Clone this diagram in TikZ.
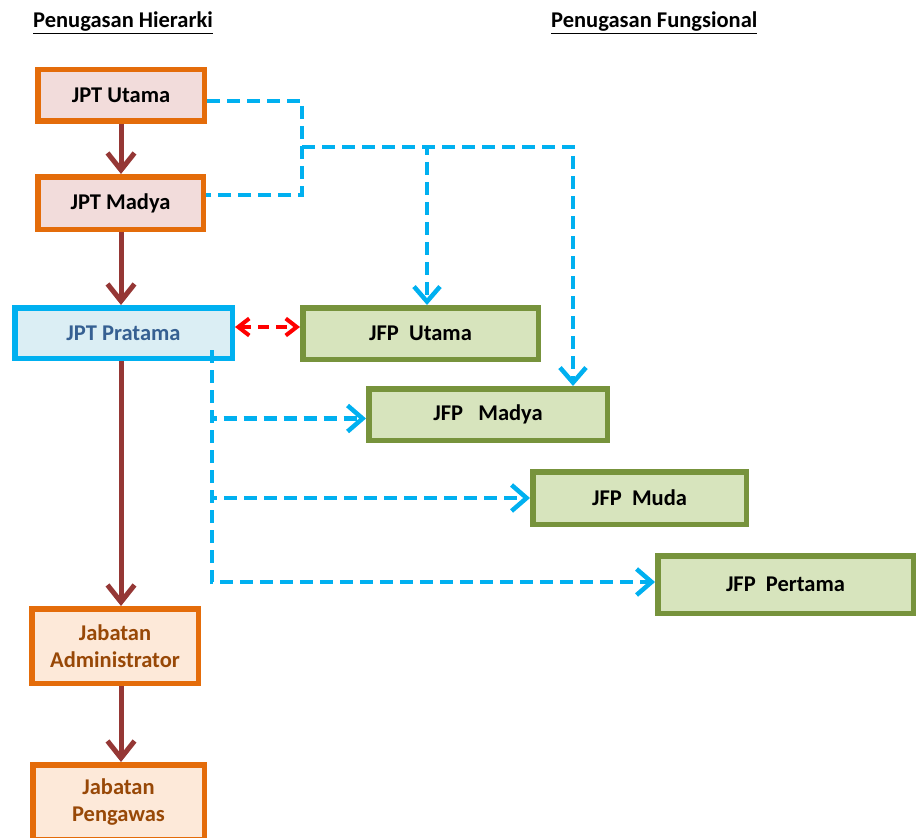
\documentclass[tikz,border=0pt]{standalone}
\usepackage{fontspec}
\setmainfont{Carlito}
\usetikzlibrary{arrows.meta}
\definecolor{orgB}{HTML}{E46C0A}
\definecolor{pinkF}{HTML}{F2DCDB}
\definecolor{peachF}{HTML}{FDE9D9}
\definecolor{brownT}{HTML}{984807}
\definecolor{brownA}{HTML}{953735}
\definecolor{blueB}{HTML}{00B0F0}
\definecolor{blueF}{HTML}{DBEEF4}
\definecolor{blueT}{HTML}{366092}
\definecolor{greenB}{HTML}{77933C}
\definecolor{greenF}{HTML}{D7E4BD}
\definecolor{redA}{HTML}{FF0000}
\begin{document}
\begin{tikzpicture}[x=1pt,y=-1pt,
  every node/.style={font=\fontsize{22.5}{27}\selectfont\bfseries, inner sep=0pt},
  jptbox/.style={draw=orgB, fill=pinkF, line width=5.5pt, text=black},
  jabbox/.style={draw=orgB, fill=peachF, line width=5.5pt, text=brownT, align=center},
  pratbox/.style={draw=blueB, fill=blueF, line width=5.5pt, text=blueT},
  jfpbox/.style={draw=greenB, fill=greenF, line width=5.5pt, text=black},
  brownarr/.style={draw=brownA, line width=5pt, -{Straight Barb[length=17pt,width=27pt]}},
  bluedash/.style={draw=blueB, line width=4.5pt, dash pattern=on 13pt off 7pt},
  bluearr/.style={bluedash, -{Straight Barb[length=15pt,width=26pt]}},
  redarr/.style={draw=redA, line width=4pt, dash pattern=on 11pt off 7pt, {Straight Barb[length=11pt,width=17pt]}-{Straight Barb[length=11pt,width=17pt]}},
  hdr/.style={anchor=base west}]
\useasboundingbox (0,0) rectangle (917,837);

% headers
\node[hdr] (h1) at (33,28) {\underline{Penugasan Hierarki}};
\node[hdr] (h2) at (551,28) {\underline{Penugasan Fungsional}};

% hierarchy boxes
\node[jptbox, minimum width=166.5pt, minimum height=51.5pt] (ju) at (121,95.5) {JPT Utama};
\node[jptbox, minimum width=165.5pt, minimum height=52.5pt] (jm) at (120.5,203) {JPT Madya};
\node[pratbox, minimum width=217.5pt, minimum height=50.5pt] (pr) at (123.5,333) {JPT Pratama};
\node[jabbox, minimum width=166.5pt, minimum height=74.5pt] (ad) at (115,646) {Jabatan\\Administrator};
\node[jabbox, minimum width=171.5pt, minimum height=74.5pt] (pg) at (118.5,802) {Jabatan\\Pengawas};

% functional boxes
\node[jfpbox, minimum width=235.5pt, minimum height=51.5pt] (fu) at (420.5,333.5) {JFP\ \ Utama};
\node[jfpbox, minimum width=238.5pt, minimum height=51.5pt] (fm) at (488,414.5) {JFP\ \ \ Madya};
\node[jfpbox, minimum width=213.5pt, minimum height=52.5pt] (fd) at (639.5,498) {JFP\ \ Muda};
\node[jfpbox, minimum width=255.5pt, minimum height=57.5pt] (fp) at (785.5,584.5) {JFP\ \ Pertama};

% brown hierarchy arrows
\coordinate (col) at (121,0);
\draw[brownarr] (ju.south -| col) -- (jm.north -| col);
\draw[brownarr] (jm.south -| col) -- (pr.north -| col);
\draw[brownarr] (pr.south -| col) -- (ad.north -| col);
\draw[brownarr] (ad.south -| col) -- (pg.north -| col);

% blue dashed from JPT Utama / Madya
\coordinate (j1) at (302,147);
\coordinate (b1) at (427,147);
\coordinate (b2) at (573,147);
\draw[bluedash] ([yshift=-5.5pt]ju.east) -| (j1) |- ([yshift=8pt]jm.east);
\draw[bluearr] (j1) -| (fm.north -| b2);
\draw[bluearr] (j1) -| (fu.north -| b1);

% blue dashed from JPT Pratama
\coordinate (p0) at (212,350);
\draw[bluearr] (p0) |- ([yshift=-4pt]fm.west);
\draw[bluearr] (p0) |- (fd.west);
\draw[bluearr] (p0) |- ([yshift=2.5pt]fp.west);

% red double arrow
\draw[redarr] ([yshift=6pt]pr.east) -- ([yshift=6.5pt]fu.west);
\end{tikzpicture}
\end{document}
